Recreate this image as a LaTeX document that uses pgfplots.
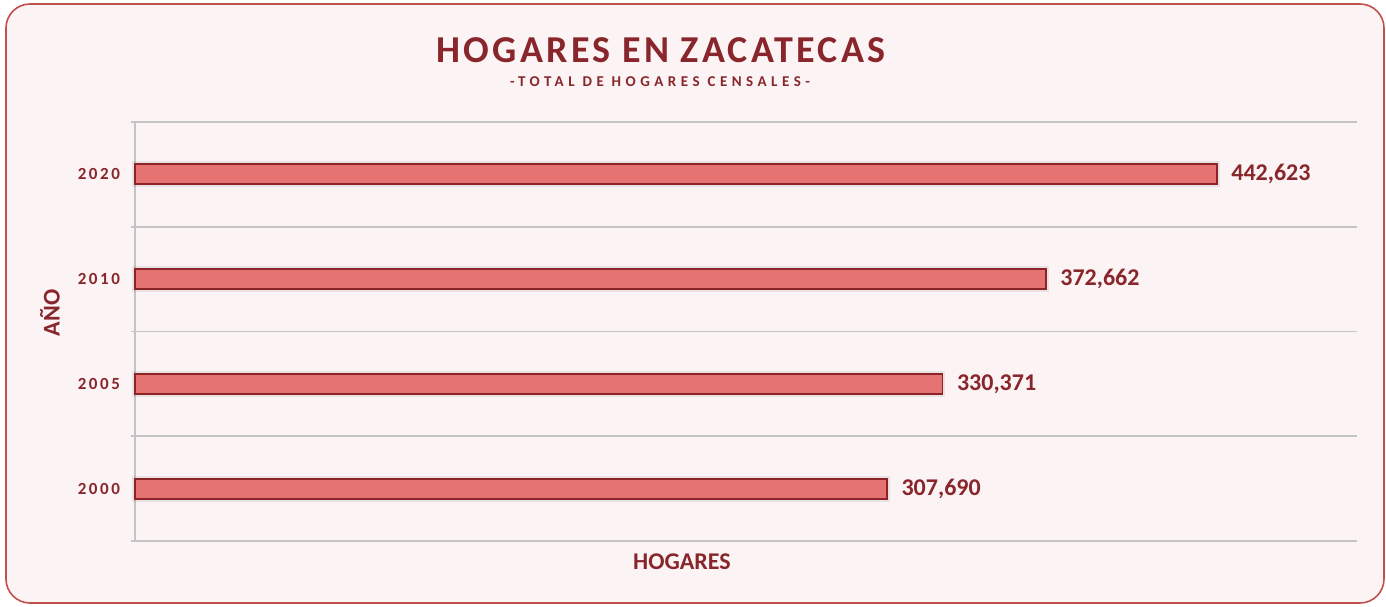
\documentclass[border=0pt]{standalone}
\usepackage{pgfplots}
\pgfplotsset{compat=1.18}
\usepackage{fontspec}
\setmainfont{Carlito}
\newfontfamily\titlef[LetterSpace=8.5]{Carlito}
\newfontfamily\subf[LetterSpace=30]{Carlito}
\newfontfamily\tickf[LetterSpace=15]{Carlito}
\definecolor{dred}{RGB}{136,38,44}
\definecolor{barfill}{RGB}{229,115,114}
\definecolor{baredge}{RGB}{140,35,40}
\definecolor{bgc}{RGB}{252,243,244}
\definecolor{borderc}{RGB}{192,80,77}
\definecolor{gridc}{RGB}{196,196,196}
\begin{document}
\begin{tikzpicture}
\path (0,0) rectangle (693pt,-303pt);
\filldraw[fill=bgc, draw=borderc, line width=0.8pt, rounded corners=12pt] (3pt,-2pt) rectangle (692pt,-301.5pt);
\node[text=dred, font=\titlef\bfseries\fontsize{19}{22}\selectfont] at (330.5pt,-25pt) {HOGARES EN ZACATECAS};
\node[text=dred, font=\subf\bfseries\fontsize{7.5}{9}\selectfont] at (330pt,-41pt) {-TOTAL DE HOGARES CENSALES-};
\node[text=dred, font=\bfseries\fontsize{12}{14}\selectfont] at (341pt,-281pt) {HOGARES};
\node[text=dred, font=\bfseries\fontsize{12}{14}\selectfont, rotate=90] at (25pt,-156.5pt) {AÑO};
\begin{axis}[
  at={(67.5pt,-61pt)}, anchor=north west,
  scale only axis, width=611pt, height=209.5pt,
  xbar, bar width=10pt,
  xmin=0, xmax=500000,
  ymin=-0.5, ymax=3.5,
  axis x line=bottom, axis y line=left,
  axis line style={draw=gridc, line width=0.8pt, -},
  xtick=\empty,
  ytick={0,1,2,3},
  yticklabels={2000,2005,2010,2020},
  yticklabel style={text=dred, font=\tickf\bfseries\fontsize{8.5}{10}\selectfont, xshift=-4pt},
  minor ytick={-0.5,0.5,1.5,2.5,3.5},
  yminorgrids=true,
  minor grid style={draw=gridc, line width=0.8pt},
  major tick length=0pt, minor tick length=2pt,
  tick align=outside,
  tick style={draw=gridc, line width=0.8pt},
  clip=false,
  nodes near coords,
  every node near coord/.append style={anchor=west, xshift=3.5pt, text=dred, font=\bfseries\fontsize{12}{14}\selectfont},
  /pgf/number format/.cd, fixed, 1000 sep={,}, assume math mode=true,
]
\addplot[fill=barfill, draw=baredge, line width=0.9pt,
  bar shift=0pt,
  preaction={draw=black, draw opacity=0.07, line width=3pt}]
  coordinates {(307690,0) (330371,1) (372662,2) (442623,3)};
\end{axis}
\end{tikzpicture}
\end{document}
